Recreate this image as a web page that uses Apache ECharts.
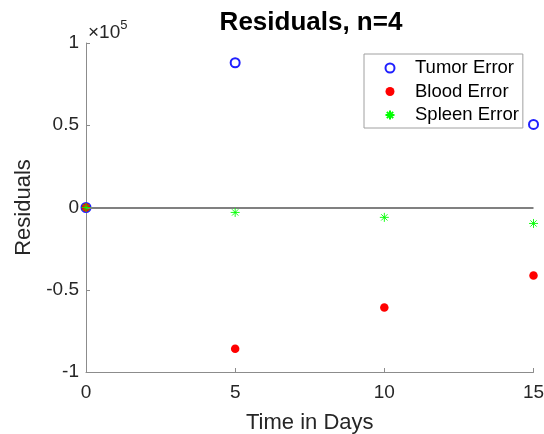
<!DOCTYPE html>
<html><head><meta charset="utf-8">
<script src="https://cdn.jsdelivr.net/npm/echarts@6/dist/echarts.min.js"></script>
<style>html,body{margin:0;padding:0;background:#fff}#c{width:544px;height:434px}</style>
</head><body><div id="c"></div>
<script>
const days = [0, 5, 10, 15];
const tumorError = [0, 88000, null, 50500];
const bloodError = [0, -85800, -60800, -41300];
const spleenError = [0, -3000, -6000, -9700];
const yTicks = [-100000, -50000, 0, 50000, 100000];
const xTicks = [0, 5, 10, 15];

const pairs = (vals) => days.map((d, i) => [d, vals[i]]).filter(p => p[1] !== null);
const font = 'Liberation Sans, Arial, sans-serif';
const asterisk = 'path://M5,0L5,10M0,5L10,5M1.5,1.5L8.5,8.5M1.5,8.5L8.5,1.5';

const chart = echarts.init(document.getElementById('c'), null, {renderer: 'canvas'});
chart.setOption({
  animation: false,
  backgroundColor: '#fff',
  title: {
    text: 'Residuals, n=4', left: 311, top: 10, padding: 0, textAlign: 'center',
    textStyle: {fontFamily: font, fontSize: 26, fontWeight: 'bold', color: '#000'}
  },
  grid: {left: 86, right: 10.5, top: 43, bottom: 62, containLabel: false, outerBoundsMode: 'none'},
  xAxis: {
    type: 'value', min: 0, max: 15, interval: 5,
    name: 'Time in Days', nameLocation: 'middle', nameGap: 40,
    nameTextStyle: {fontFamily: font, fontSize: 22, color: '#262626'},
    axisLine: {show: true, onZero: false, lineStyle: {color: '#8c8c8c', width: 1}},
    axisTick: {show: true, inside: true, length: 4, lineStyle: {color: '#8c8c8c'}},
    axisLabel: {fontFamily: font, fontSize: 19, color: '#262626', margin: 11},
    splitLine: {show: false}
  },
  yAxis: {
    type: 'value', min: -100000, max: 100000, interval: 50000,
    name: 'Residuals', nameLocation: 'middle', nameGap: 42,
    nameTextStyle: {fontFamily: font, fontSize: 22, color: '#262626'},
    axisLine: {show: true, onZero: false, lineStyle: {color: '#8c8c8c', width: 1}},
    axisTick: {show: true, inside: true, length: 4, lineStyle: {color: '#8c8c8c'}},
    axisLabel: {fontFamily: font, fontSize: 19, color: '#262626', margin: 7,
      formatter: v => String(v / 100000)},
    splitLine: {show: false}
  },
  legend: {
    orient: 'vertical', left: 364, top: 54,
    padding: [4, 4, 3, 19], itemGap: 3.5, itemWidth: 40, itemHeight: 9,
    backgroundColor: '#fff', borderColor: '#a0a0a0', borderWidth: 1, borderRadius: 0,
    textStyle: {fontFamily: font, fontSize: 18.5, color: '#000', lineHeight: 20},
    data: ['Tumor Error', 'Blood Error', 'Spleen Error']
  },
  graphic: [{
    type: 'text', left: 88, top: 19,
    style: {
      text: '{a|×10}{b|5}',
      rich: {
        a: {fontFamily: font, fontSize: 19, fill: '#262626', verticalAlign: 'bottom'},
        b: {fontFamily: font, fontSize: 13, fill: '#262626', verticalAlign: 'top', padding: [0, 0, 10, 0]}
      }
    }
  }],
  series: [
    {
      name: 'Tumor Error', type: 'scatter', data: pairs(tumorError),
      symbol: 'emptyCircle', symbolSize: 9,
      itemStyle: {color: '#2020ff', borderColor: '#2020ff', borderWidth: 0.8, opacity: 1},
      markLine: {
        silent: true, symbol: ['none', 'none'], label: {show: false},
        lineStyle: {color: '#808080', width: 2, type: 'solid', opacity: 1},
        data: [{yAxis: 0}]
      },
      z: 3
    },
    {
      name: 'Blood Error', type: 'scatter', data: pairs(bloodError),
      symbol: 'circle', symbolSize: 8.5,
      itemStyle: {color: '#ff0000', opacity: 1}, z: 4
    },
    {
      name: 'Spleen Error', type: 'scatter', data: pairs(spleenError),
      symbol: asterisk, symbolSize: 9,
      itemStyle: {color: 'none', borderColor: '#00ff00', borderWidth: 0.9, opacity: 1}, z: 5
    }
  ]
});
</script>
</body></html>
